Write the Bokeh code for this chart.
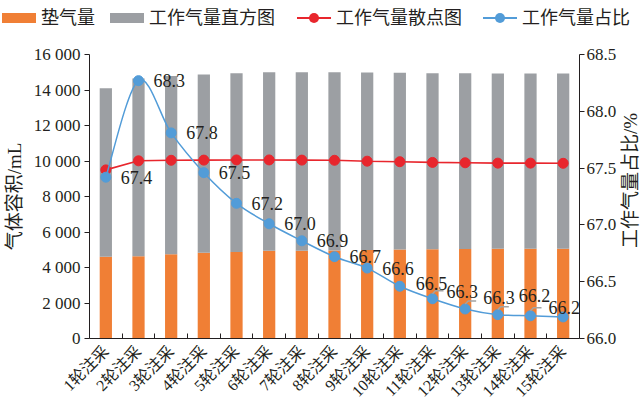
import math
from bokeh.plotting import figure
from bokeh.layouts import column, row
from bokeh.models import (Range1d, LinearAxis, FixedTicker, ColumnDataSource, Div)
from bokeh.core.properties import value
from bokeh.embed import file_html
from bokeh.resources import INLINE

# ---------------- data ----------------
rounds = ["1轮注采", "2轮注采", "3轮注采", "4轮注采", "5轮注采", "6轮注采", "7轮注采",
          "8轮注采", "9轮注采", "10轮注采", "11轮注采", "12轮注采", "13轮注采",
          "14轮注采", "15轮注采"]
cushion = [4600, 4640, 4750, 4830, 4880, 4940, 4950, 4960, 4990, 5010, 5030, 5040,
           5050, 5050, 5060]
working = [9500, 10010, 10040, 10050, 10060, 10060, 10050, 10040, 9990, 9960, 9920,
           9900, 9880, 9880, 9870]
ratio = [67.42, 68.27, 67.81, 67.46, 67.19, 67.01, 66.86, 66.72, 66.62, 66.46, 66.35,
         66.26, 66.21, 66.20, 66.19]
ratio_labels = ["67.4", "68.3", "67.8", "67.5", "67.2", "67.0", "66.9", "66.7", "66.6",
                "66.5", "66.3", "66.3", "66.2", "66.2"]
left_ticks = [0, 2000, 4000, 6000, 8000, 10000, 12000, 14000, 16000]
left_tick_labels = ["0", "2 000", "4 000", "6 000", "8 000", "10 000", "12 000",
                    "14 000", "16 000"]
right_ticks = [66.0, 66.5, 67.0, 67.5, 68.0, 68.5]
right_tick_labels = ["66.0", "66.5", "67.0", "67.5", "68.0", "68.5"]
legend_labels = ["垫气量", "工作气量直方图", "工作气量散点图", "工作气量占比"]
right_title = "工作气量占比/%"

# ---------------- style ----------------
ORANGE = "#F07F35"
GRAY = "#9C9FA3"
RED = "#E8262D"
BLUE = "#529CD8"
TXT = "#231F20"
FONT = "'Liberation Serif', 'Noto Sans CJK SC'"
FW, FH = 490, 284
W = 633
LEG_H = 40
LEFT = 83
RIGHT = 38
TITLE_W = W - LEFT - FW - RIGHT

xs = list(range(1, len(rounds) + 1))
total = [c + w for c, w in zip(cushion, working)]

p = figure(frame_width=FW, frame_height=FH, output_backend="svg", toolbar_location=None,
           x_range=Range1d(0.5, len(rounds) + 0.5), y_range=Range1d(0, 16000),
           min_border_left=LEFT, min_border_right=RIGHT, min_border_top=14,
           min_border_bottom=56)
p.title.visible = False
p.xgrid.visible = False
p.ygrid.visible = False
p.outline_line_color = None
p.extra_y_ranges = {"ratio": Range1d(66.0, 68.5)}

src = ColumnDataSource(dict(x=xs, cushion=cushion, working=working, total=total,
                            ratio=ratio))

p.vbar(x="x", width=0.375, bottom=0, top="cushion", source=src,
       fill_color=ORANGE, line_color=None)
p.vbar(x="x", width=0.375, bottom="cushion", top="total", source=src,
       fill_color=GRAY, line_color=None)

p.line("x", "working", source=src, line_color=RED, line_width=1.6)
p.scatter("x", "working", source=src, size=10, fill_color=RED, line_color=RED)

# smooth blue curve (Catmull-Rom control points for bezier glyph)
n = len(xs)
bz = dict(x0=[], y0=[], x1=[], y1=[], cx0=[], cy0=[], cx1=[], cy1=[])
for i in range(n - 1):
    a = i - 1 if i > 0 else i
    d = i + 2 if i + 2 < n else i + 1
    bz["x0"].append(xs[i]); bz["y0"].append(ratio[i])
    bz["x1"].append(xs[i + 1]); bz["y1"].append(ratio[i + 1])
    bz["cx0"].append(xs[i] + (xs[i + 1] - xs[a]) / 6)
    bz["cy0"].append(ratio[i] + (ratio[i + 1] - ratio[a]) / 6)
    bz["cx1"].append(xs[i + 1] - (xs[d] - xs[i]) / 6)
    bz["cy1"].append(ratio[i + 1] - (ratio[d] - ratio[i]) / 6)
p.bezier(source=ColumnDataSource(bz), y_range_name="ratio", line_color=BLUE,
         line_width=1.5)
p.scatter("x", "ratio", source=src, y_range_name="ratio", size=10,
          fill_color=BLUE, line_color=BLUE)

# leader lines for crowded labels
dxp = (len(rounds)) / FW
dyp = 2.5 / FH
lx, ly = [], []
for i in range(10, 14):
    lx.append([xs[i] + 0 * dxp, xs[i] + 3 * dxp, xs[i] + 11 * dxp])
    ly.append([ratio[i] + 5 * dyp, ratio[i] + 8 * dyp, ratio[i] + 8 * dyp])
p.multi_line(lx, ly, y_range_name="ratio", line_color="#A3A3A3", line_width=1.5)

x_off = [15, 15, 15, 15, 15, 15, 15, 15, 15, 16, 14, 18, 21, 18]
y_off = [0, 0, 0, 0, 0, 0, 0, 0, 0, -3, -7, -11, -19, -8]
nl = len(ratio_labels)
lab_src = ColumnDataSource(dict(x=xs[:nl], y=ratio[:nl], t=ratio_labels,
                                xo=x_off, yo=y_off))
p.text("x", "y", text="t", source=lab_src, y_range_name="ratio", x_offset="xo",
       y_offset="yo", text_font=value(FONT), text_font_size="18px",
       text_align="left", text_baseline="middle", text_color=TXT)

# ---------------- axes ----------------
def style_axis(ax):
    ax.axis_line_color = TXT
    ax.axis_line_width = 1
    ax.major_tick_line_color = TXT
    ax.minor_tick_line_color = TXT
    ax.major_label_text_font = FONT
    ax.major_label_text_color = TXT
    ax.axis_label_text_font = FONT
    ax.axis_label_text_font_style = "normal"
    ax.axis_label_text_color = TXT

ya = p.yaxis[0]
style_axis(ya)
ya.ticker = FixedTicker(ticks=left_ticks)
ya.major_label_overrides = dict(zip(left_ticks, left_tick_labels))
ya.major_tick_in = 0
ya.major_tick_out = 5
ya.minor_tick_line_color = None
ya.major_label_text_font_size = "17px"
ya.major_label_standoff = 4
ya.axis_label = "气体容积/mL"
ya.axis_label_text_font_size = "19px"
ya.axis_label_standoff = 6

xa = p.xaxis[0]
style_axis(xa)
xa.ticker = FixedTicker(ticks=xs, minor_ticks=[v + 0.5 for v in xs[:-1]])
xa.major_label_overrides = dict(zip(xs, rounds))
xa.major_tick_line_color = None
xa.minor_tick_in = 5
xa.minor_tick_out = 0
xa.major_label_orientation = math.pi / 4
xa.major_label_text_font_size = "16px"
xa.major_label_standoff = 4

ra = LinearAxis(y_range_name="ratio", ticker=FixedTicker(ticks=right_ticks))
style_axis(ra)
ra.major_label_overrides = dict(zip(right_ticks, right_tick_labels))
ra.major_tick_in = 0
ra.major_tick_out = 5
ra.minor_tick_line_color = None
ra.major_label_text_font_size = "17px"
ra.major_label_standoff = 2
p.add_layout(ra, "right")

# ---------------- right axis title (reads bottom-to-top) ----------------
right_div = Div(
    text=(f'<div style="height:282px;width:{TITLE_W}px;display:flex;'
          f'align-items:center;justify-content:center;">'
          f'<span style="writing-mode:vertical-rl;text-orientation:sideways;'
          f'transform:rotate(180deg);white-space:nowrap;font-family:{FONT};'
          f'font-size:19px;color:{TXT};line-height:1;">{right_title}</span></div>'),
    width=TITLE_W, height=282, margin=0)

# ---------------- legend strip above the chart ----------------
def swatch(color):
    return (f'<span style="display:inline-block;width:34px;height:10px;'
            f'background:{color};margin-right:5px;"></span>')

def line_marker(color):
    return ('<span style="position:relative;display:inline-block;width:34px;'
            'height:10px;margin-right:5px;">'
            f'<span style="position:absolute;left:0;width:34px;top:4px;height:2px;'
            f'background:{color};"></span>'
            f'<span style="position:absolute;left:12px;top:0;width:10px;height:10px;'
            f'border-radius:50%;background:{color};"></span></span>')

glyphs = [swatch(ORANGE), swatch(GRAY), line_marker(RED), line_marker(BLUE)]
gaps = [15, 22, 21, 0]
items = "".join(
    f'<span style="display:inline-flex;align-items:center;margin-right:{g}px;">'
    f'{gl}<span>{lab}</span></span>'
    for gl, lab, g in zip(glyphs, legend_labels, gaps))
legend_div = Div(
    text=(f'<div style="display:flex;align-items:center;height:36px;padding-left:2px;'
          f'white-space:nowrap;font-family:{FONT};font-size:18px;color:{TXT};'
          f'line-height:1;">{items}</div>'),
    width=W, height=LEG_H, margin=0)

layout = column(legend_div, row(p, right_div, spacing=0), spacing=0)
open("out.html", "w").write(file_html(layout, INLINE))
